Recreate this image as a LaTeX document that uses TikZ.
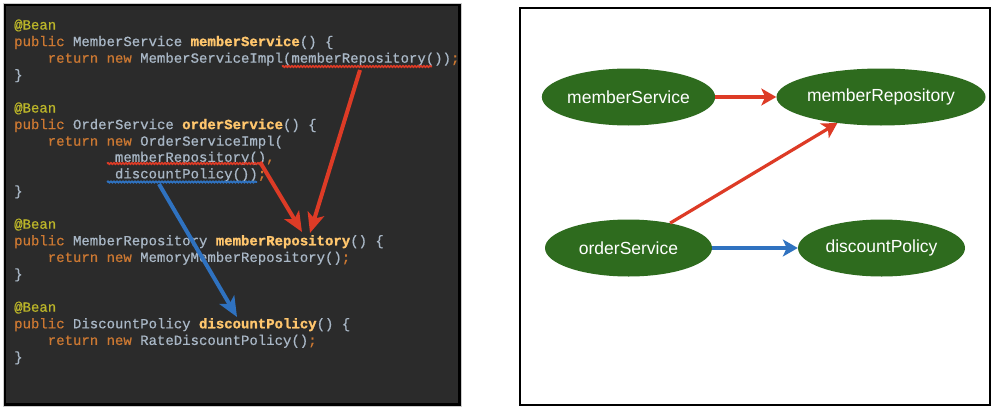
\documentclass[tikz,border=0pt]{standalone}
\usepackage{fontspec}
\usetikzlibrary{shapes.geometric,arrows.meta,decorations.pathmorphing}
\newfontfamily\codefont[UprightFeatures={FakeBold=0.6}, BoldFeatures={FakeBold=1.2}]{Liberation Mono}
\newfontfamily\labelfont{Liberation Sans}
\definecolor{codebg}{HTML}{2B2B2B}
\definecolor{plaintxt}{HTML}{A9B7C6}
\definecolor{kwtxt}{HTML}{CC7832}
\definecolor{anntxt}{HTML}{BBB529}
\definecolor{mthtxt}{HTML}{FFC66D}
\definecolor{beangreen}{HTML}{2E6B1E}
\definecolor{deppred}{HTML}{DD3B26}
\definecolor{deppblue}{HTML}{2F72C0}
\newcommand{\kw}[1]{\textcolor{kwtxt}{#1}}
\newcommand{\mth}[1]{\textcolor{mthtxt}{\bfseries #1}}
\begin{document}
\begin{tikzpicture}[x=1pt, y=-1pt,
    codeline/.style={anchor=base west, inner sep=0pt, text=plaintxt,
        font=\codefont\fontsize{14}{16}\selectfont},
    bean/.style={ellipse, fill=beangreen, text=white, inner sep=0pt,
        minimum width=167pt, minimum height=57pt,
        font=\labelfont\fontsize{17.5}{20}\selectfont},
    dep/.style={line width=3.2pt, -{Stealth[length=15pt, width=17pt, inset=4pt]}},
    codedep/.style={line width=4pt, -{Stealth[length=20pt, width=17pt, inset=5pt]}},
    squiggle/.style={line width=1.8pt, decorate,
        decoration={snake, amplitude=0.6pt, segment length=3pt}}]
    \useasboundingbox (0,0) rectangle (995,415);
    \fill[white] (0,0) rectangle (995,415);

    % 1. code panel
    \draw[gray!40, line width=1pt, fill=black] (3,3) rectangle (461,406);
    \fill[codebg] (6,6) rectangle (458,403);

    \foreach \y/\name in {29.5/beanA, 112.5/beanB, 228.7/beanC, 311.7/beanD}
        \node[codeline, text=anntxt] (\name) at (14,\y) {@Bean};

    \node[codeline] (msDecl) at (14,46.1) {\kw{public} MemberService \mth{memberService}() \{};
    \node[codeline] (msBody) at (47.6,62.7) {\kw{return new} MemberServiceImpl(memberRepository())\kw{;}};
    \node[codeline] (msEnd) at (14,79.3) {\}};

    \node[codeline] (osDecl) at (14,129.1) {\kw{public} OrderService \mth{orderService}() \{};
    \node[codeline] (osBody) at (47.6,145.7) {\kw{return new} OrderServiceImpl(};
    \node[codeline] (osArgA) at (114.8,161.8) {memberRepository()\kw{,}};
    \node[codeline] (osArgB) at (114.8,178.4) {discountPolicy())\kw{;}};
    \node[codeline] (osEnd) at (14,195.5) {\}};

    \node[codeline] (mrDecl) at (14,245.3) {\kw{public} MemberRepository \mth{memberRepository}() \{};
    \node[codeline] (mrBody) at (47.6,261.9) {\kw{return new} MemoryMemberRepository()\kw{;}};
    \node[codeline] (mrEnd) at (14,278.5) {\}};

    \node[codeline] (dpDecl) at (14,328.3) {\kw{public} DiscountPolicy \mth{discountPolicy}() \{};
    \node[codeline] (dpBody) at (47.6,344.9) {\kw{return new} RateDiscountPolicy()\kw{;}};
    \node[codeline] (dpEnd) at (14,361.5) {\}};

    % 2. underlines
    \draw[squiggle, deppred] (282,66.5) -- (432,66.5);
    \draw[squiggle, deppred] (107,163.5) -- (263,163.5);
    \draw[squiggle, deppblue] (107,182) -- (257,182);

    % 3. code arrows
    \coordinate (mrUseA) at (360,70);
    \coordinate (mrDefA) at (310,233);
    \coordinate (mrUseB) at (260,162);
    \coordinate (mrDefB) at (302,232);
    \coordinate (dpUse) at (159,184);
    \coordinate (dpDef) at (237,317);
    \draw[codedep, deppred] (mrUseA) -- (mrDefA);
    \draw[codedep, deppred] (mrUseB) -- (mrDefB);
    \draw[codedep, deppblue] (dpUse) -- (dpDef);

    % 4. graph panel
    \draw[black, line width=2.5pt] (520,8) rectangle (990,405);
    \node[bean] (ms) at (628.5,97) {memberService};
    \node[bean, minimum width=196pt] (mr) at (881,97) {memberRepository};
    \node[bean] (os) at (628.5,248) {orderService};
    \node[bean] (dp) at (881.5,248) {discountPolicy};

    \draw[dep, deppred] (ms) -- (mr);
    \draw[dep, deppred] (os) -- (mr);
    \draw[dep, deppblue] (os) -- (dp);
\end{tikzpicture}
\end{document}
